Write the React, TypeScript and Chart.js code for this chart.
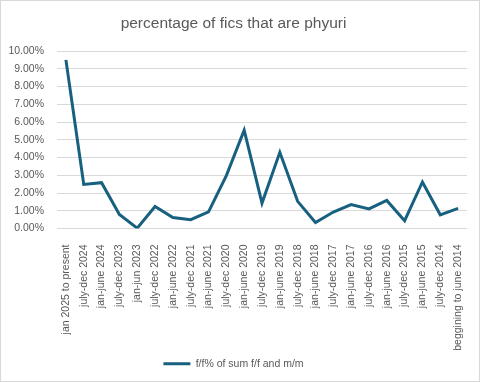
import React, { useEffect, useRef } from "react";
import { Chart, registerables } from "chart.js";

Chart.register(...registerables);

const categories = [
  "jan 2025 to present",
  "july-dec 2024",
  "jan-june 2024",
  "july-dec 2023",
  "jan-jun 2023",
  "july-dec 2022",
  "jan-june 2022",
  "july-dec 2021",
  "jan-june 2021",
  "july-dec 2020",
  "jan-june 2020",
  "july-dec 2019",
  "jan-june 2019",
  "july-dec 2018",
  "jan-june 2018",
  "july-dec 2017",
  "jan-june 2017",
  "july-dec 2016",
  "jan-june 2016",
  "july-dec 2015",
  "jan-june 2015",
  "july-dec 2014",
  "beggining to june 2014",
];

const seriesLabel = "f/f% of sum f/f and m/m";
const seriesValues = [
  9.5, 2.48, 2.58, 0.79, 0.02, 1.24, 0.62, 0.5, 0.94, 2.98, 5.54, 1.43, 4.29,
  1.53, 0.34, 0.93, 1.35, 1.1, 1.58, 0.44, 2.62, 0.77, 1.13,
];

const yTicks = [0, 1, 2, 3, 4, 5, 6, 7, 8, 9, 10];
const titleText = "percentage of fics that are phyuri";

const labelFont = '"Liberation Sans", Arial, sans-serif';

export default function App() {
  const ref = useRef<HTMLCanvasElement | null>(null);

  useEffect(() => {
    document.body.style.margin = "0";
    const canvas = ref.current;
    if (!canvas) return;
    const borderPlugin = {
      id: "frame",
      afterDraw(chart: any) {
        const c = chart.ctx;
        c.save();
        c.strokeStyle = "#d9d9d9";
        c.lineWidth = 1;
        c.strokeRect(0.5, 0.5, chart.width - 3, chart.height - 1);
        c.restore();
      },
    };
    const chart = new Chart(canvas, {
      type: "line",
      data: {
        labels: categories,
        datasets: [
          {
            label: seriesLabel,
            data: seriesValues,
            borderColor: "#18607f",
            backgroundColor: "#18607f",
            borderWidth: 3,
            pointRadius: 0,
            tension: 0,
          },
        ],
      },
      options: {
        responsive: false,
        animation: false,
        layout: { padding: { top: 0, left: 0, right: 15, bottom: 3 } },
        plugins: {
          title: {
            display: true,
            text: titleText,
            color: "#595959",
            font: { family: labelFont, size: 15.5, weight: "normal" },
            padding: { top: 14, bottom: 18.4 },
          },
          legend: {
            position: "bottom",
            labels: {
              usePointStyle: true,
              pointStyle: "line",
              pointStyleWidth: 27,
              color: "#595959",
              padding: 4,
              font: { family: labelFont, size: 10.5 },
            },
          },
          tooltip: { enabled: false },
        },
        scales: {
          x: {
            offset: true,
            grid: { display: false, drawTicks: true, tickLength: 16 },
            border: { display: false },
            ticks: {
              autoSkip: false,
              minRotation: 90,
              maxRotation: 90,
              padding: 0,
              color: "#595959",
              font: { family: labelFont, size: 10.5 },
            },
            afterFit: (scale: any) => {
              scale.height = 126;
            },
          },
          y: {
            min: 0,
            max: 10,
            afterBuildTicks: (scale: any) => {
              scale.ticks = yTicks.map((v) => ({ value: v }));
            },
            grid: { color: "#d9d9d9", lineWidth: 1, drawTicks: false },
            border: { display: false },
            ticks: {
              padding: 13,
              color: "#595959",
              font: { family: labelFont, size: 10.5 },
              callback: (v: any) => Number(v).toFixed(2) + "%",
            },
            afterFit: (scale: any) => {
              scale.width = 57;
            },
          },
        },
      },
      plugins: [borderPlugin],
    });
    return () => chart.destroy();
  }, []);

  return <canvas ref={ref} width={482} height={382} />;
}
